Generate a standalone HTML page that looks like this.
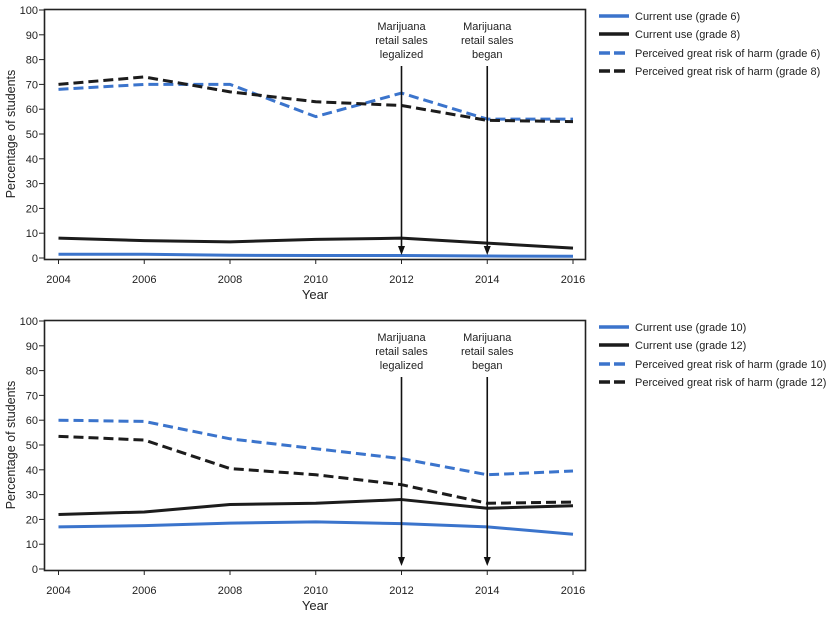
<!DOCTYPE html>
<html><head><meta charset="utf-8"><style>
body{margin:0;background:#fff;}
svg{display:block;font-family:"Liberation Sans",sans-serif;}
</style></head><body>
<svg id="c" width="836" height="618"></svg>
<script>
const years=[2004,2006,2008,2010,2012,2014,2016];
const yTicks=[0,10,20,30,40,50,60,70,80,90,100];
const use6=[1.5,1.5,1.1,1,1,0.8,0.7];
const use8=[8,7,6.5,7.5,8,6,4];
const risk6=[68,70,70,57,66.5,56,56];
const risk8=[70,73,67,63,61.5,55.5,55];
const use10=[17,17.5,18.5,19,18.3,17,14];
const use12=[22,23,26,26.5,28,24.5,25.5];
const risk10=[60,59.5,52.5,48.5,44.5,38,39.5];
const risk12=[53.5,52,40.5,38,34,26.5,27];
const eventYears=[2012,2014];
const eventLabels=[["Marijuana","retail sales","legalized"],["Marijuana","retail sales","began"]];
const labelsTop=["Current use (grade 6)","Current use (grade 8)","Perceived great risk of harm (grade 6)","Perceived great risk of harm (grade 8)"];
const labelsBot=["Current use (grade 10)","Current use (grade 12)","Perceived great risk of harm (grade 10)","Perceived great risk of harm (grade 12)"];

const NS="http://www.w3.org/2000/svg";
const svg=document.getElementById('c');
const BLUE="#3b74cc",BLK="#1c1c1c";
function mk(t,a,p){const e=document.createElementNS(NS,t);for(const k in a)e.setAttribute(k,a[k]);(p||svg).appendChild(e);return e;}

function chart(top,series,labels,id){
  const y100=top, y0=top+248, x0=58.5, x1=573;
  const g=mk('g',{});
  
  
  const X=v=>x0+(v-years[0])/(years[years.length-1]-years[0])*(x1-x0);
  const Y=v=>y0-(v/100)*(y0-y100);
  const box=mk('rect',{x:44.5,y:y100-0.5,width:541,height:250,fill:'none',stroke:'#222','stroke-width':1.6},g);
  
  
  yTicks.forEach(t=>{
    mk('line',{x1:39,x2:44.5,y1:Y(t),y2:Y(t),stroke:'#222','stroke-width':1},g);
    const tx=mk('text',{x:38,y:Y(t)+4,'text-anchor':'end','font-size':11,fill:'#222'},g);
    tx.textContent=t;
    
    
  });
  years.forEach(yr=>{
    mk('line',{x1:X(yr),x2:X(yr),y1:y0+2,y2:y0+6,stroke:'#222','stroke-width':1},g);
    const tx=mk('text',{x:X(yr),y:y0+25,'text-anchor':'middle','font-size':11,fill:'#222'},g);
    tx.textContent=yr;
    
    
  });
  const xt=mk('text',{x:315,y:y0+41,'text-anchor':'middle','font-size':13,fill:'#222'},g);
  xt.textContent='Year';
  
  
  const yt=mk('text',{x:0,y:0,'text-anchor':'middle','font-size':12.5,fill:'#222',transform:`translate(15,${(y0+y100)/2}) rotate(-90)`},g);
  yt.textContent='Percentage of students';
  
  
  const styles=[[BLUE,''],[BLK,''],[BLUE,'10 5'],[BLK,'10 5']];
  series.forEach((s,i)=>{
    const d=s.map((v,j)=>(j?'L':'M')+X(years[j])+' '+Y(v)).join(' ');
    const p=mk('path',{d,fill:'none',stroke:styles[i][0],'stroke-width':3,'stroke-dasharray':styles[i][1],'stroke-linejoin':'round'},g);
    
    
  });
  eventYears.forEach((yr,i)=>{
    const x=X(yr);
    const l=mk('line',{x1:x,x2:x,y1:top+56,y2:y0-10,stroke:'#111','stroke-width':1.6},g);
    
    
    mk('path',{d:`M${x-3.5} ${y0-12} L${x+3.5} ${y0-12} L${x} ${y0-3} Z`,fill:'#111'},g);
    eventLabels[i].forEach((s,k)=>{
      const t=mk('text',{x:x,y:top+20+k*14,'text-anchor':'middle','font-size':11,fill:'#222'},g);
      t.textContent=s;
      
      
    });
  });
  labels.forEach((s,i)=>{
    const ly=top+6+i*18+(i>1?1:0);
    mk('line',{x1:599,x2:629,y1:ly,y2:ly,stroke:styles[i][0],'stroke-width':3.5,'stroke-dasharray':styles[i][1]?'11 4':''},g);
    const t=mk('text',{x:635,y:ly+4,'font-size':11,fill:'#222'},g);
    t.textContent=s;
    
    
  });
}
chart(10,[use6,use8,risk6,risk8],labelsTop,'chart-grades-6-8');
chart(321,[use10,use12,risk10,risk12],labelsBot,'chart-grades-10-12');
</script>
</body></html>
